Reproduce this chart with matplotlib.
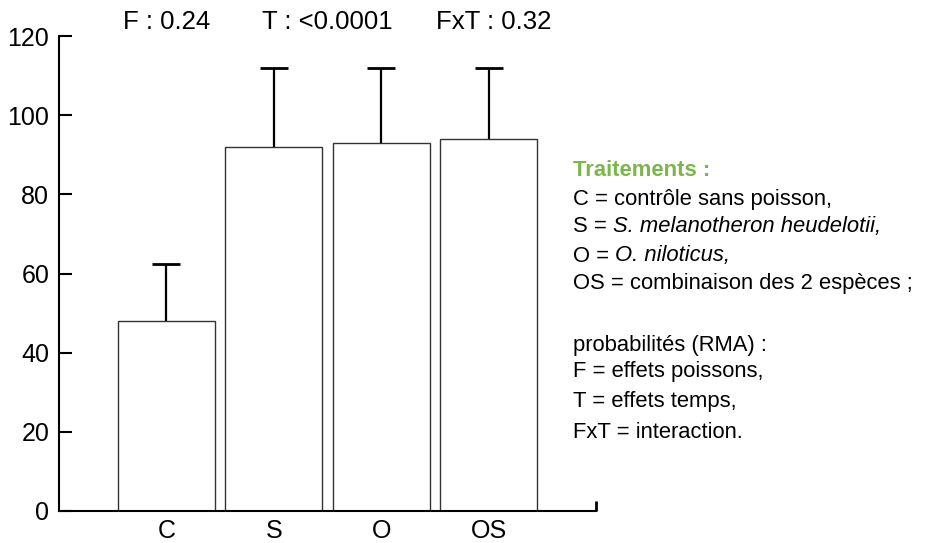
import matplotlib
matplotlib.use("Agg")
import matplotlib.pyplot as plt
import numpy as np

plt.rcParams['font.family'] = ['Liberation Sans', 'DejaVu Sans']

categories = ['C', 'S', 'O', 'OS']
means = [48, 92, 93, 94]
upper_err = [14.5, 20, 19, 18]
yticks = [0, 20, 40, 60, 80, 100, 120]
stats_labels = ['F : 0.24', 'T : <0.0001', 'FxT : 0.32']
stats_x = [0, 1.5, 3.05]

W, H = 925, 543
fig = plt.figure(figsize=(W / 100, H / 100), dpi=100)
ax = fig.add_axes([59 / W, (H - 511) / H, (596 - 59) / W, (511 - 36) / H])

x = np.arange(len(categories))
means_a = np.array(means, dtype=float)
tops = means_a + np.array(upper_err, dtype=float)
ax.bar(x, means, width=0.9, color='white', edgecolor='#333333', linewidth=1.0, zorder=2)
ax.vlines(x, means_a, tops, colors='black', linewidth=1.6, zorder=3)
ax.plot(x, tops, linestyle='none', marker='_', markersize=20, markeredgewidth=2.0,
        color='black', zorder=3)

ax.set_xlim(-1, 4)
ax.set_ylim(0, 120)
ax.set_yticks(yticks)
ax.tick_params(axis='y', direction='in', length=9.4, width=1.5, pad=7, labelsize=18)
ax.set_xticks(x)
ax.set_xticklabels(categories)
ax.tick_params(axis='x', which='major', length=0, pad=6, labelsize=18)
ax.set_xticks([4], minor=True)
ax.tick_params(axis='x', which='minor', direction='in', length=7.5, width=2.0)
for s in ['top', 'right']:
    ax.spines[s].set_visible(False)
ax.spines['left'].set_linewidth(1.5)
ax.spines['bottom'].set_linewidth(1.5)

for lab, xv in zip(stats_labels, stats_x):
    ax.text(xv, 1.0 + 14 / 475, lab, transform=ax.get_xaxis_transform(),
            ha='center', va='center', fontsize=18.5)

def fy(py):
    return 1 - py / H

lx = 573 / W
fs = 15.8
fig.text(lx, fy(170), 'Traitements :', color='#7ab648', fontweight='bold',
         fontsize=fs, va='center', ha='left')
fig.text(lx, fy(199), 'C = contrôle sans poisson,', fontsize=fs, va='center')
t1 = fig.text(lx, fy(227), 'S = ', fontsize=fs, va='center')
plt.annotate('S. melanotheron heudelotii,', xy=(1, 0), xycoords=t1,
             va='bottom', ha='left', fontsize=fs, style='italic')
t2 = fig.text(lx, fy(256), 'O = ', fontsize=fs, va='center')
plt.annotate('O. niloticus,', xy=(1, 0), xycoords=t2,
             va='bottom', ha='left', fontsize=fs, style='italic')
fig.text(lx, fy(284), 'OS = combinaison des 2 espèces ;', fontsize=fs, va='center')

fig.text(lx, fy(345), 'probabilités (RMA) :', fontsize=fs, va='center')
fig.text(lx, fy(372), 'F = effets poissons,', fontsize=fs, va='center')
fig.text(lx, fy(402), 'T = effets temps,', fontsize=fs, va='center')
fig.text(lx, fy(432), 'FxT = interaction.', fontsize=fs, va='center')

fig.savefig('out.png', dpi=100)
